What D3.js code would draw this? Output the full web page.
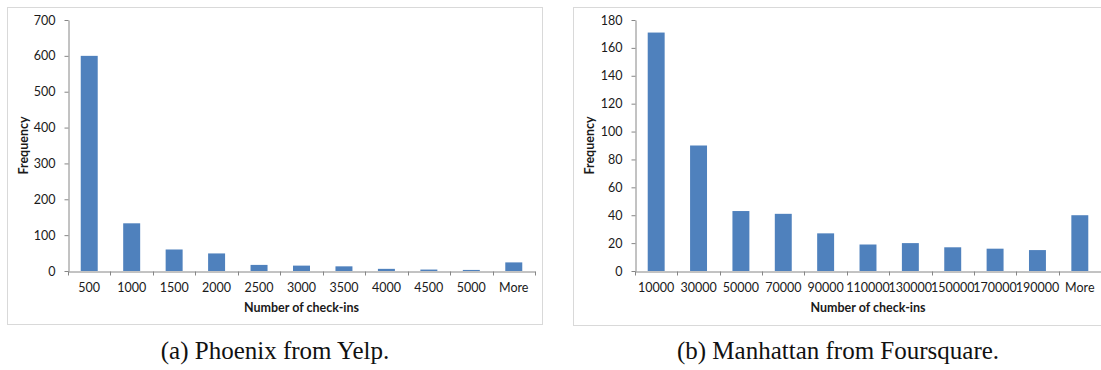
<!DOCTYPE html>
<html>
<head>
<meta charset="utf-8">
<script src="https://cdn.jsdelivr.net/npm/d3@7"></script>
<style>
  html, body { margin: 0; padding: 0; background: #fff; }
  svg { display: block; }
  .tick text { font-family: Lato, "Open Sans", sans-serif; }
</style>
</head>
<body>
<svg id="fig" width="1101" height="370"></svg>
<script>
// Histogram of check-ins per venue, Phoenix (Yelp)
const yelpBins = ["500", "1000", "1500", "2000", "2500", "3000", "3500", "4000", "4500", "5000", "More"];
const yelpFreq = [600, 133, 60, 49, 17, 15, 13, 6, 4, 3, 24];
const yelpTicks = [0, 100, 200, 300, 400, 500, 600, 700];

// Histogram of check-ins per venue, Manhattan (Foursquare)
const fsqBins = ["10000", "30000", "50000", "70000", "90000", "110000", "130000", "150000", "170000", "190000", "More"];
const fsqFreq = [171, 90, 43, 41, 27, 19, 20, 17, 16, 15, 40];
const fsqTicks = [0, 20, 40, 60, 80, 100, 120, 140, 160, 180];

const captions = ["(a) Phoenix from Yelp.", "(b) Manhattan from Foursquare."];

const svg = d3.select("#fig");
const BAR = "#4F81BD", AXIS = "#868686", FRAME = "#D9D9D9", INK = "#1a1a1a";

function panel(opt) {
  const g = svg.append("g");

  // chart frame
  g.append("rect")
    .attr("x", opt.frame[0] + 0.5).attr("y", opt.frame[1] + 0.5)
    .attr("width", opt.frame[2] - opt.frame[0]).attr("height", opt.frame[3] - opt.frame[1])
    .attr("fill", "none").attr("stroke", FRAME).attr("stroke-width", 1);

  const x = d3.scaleBand()
    .domain(opt.bins)
    .range([opt.left, opt.right])
    .paddingInner(0.6).paddingOuter(0.3);

  const y = d3.scaleLinear()
    .domain([0, d3.max(opt.ticks)])
    .range([opt.bottom, opt.top]);

  // bars
  g.selectAll("rect.bar")
    .data(opt.bins.map((b, i) => ({ b, v: opt.freq[i] })))
    .join("rect").attr("class", "bar")
    .attr("x", d => x(d.b))
    .attr("width", x.bandwidth())
    .attr("y", d => y(d.v))
    .attr("height", d => y(0) - y(d.v))
    .attr("fill", BAR);

  // y axis
  const ya = g.append("g")
    .attr("transform", `translate(${opt.left + 0.5},0)`)
    .call(d3.axisLeft(y).tickValues(opt.ticks).tickSize(4).tickPadding(9).tickSizeOuter(0));
  ya.select(".domain").attr("stroke", AXIS);
  ya.selectAll(".tick line").attr("stroke", AXIS);
  ya.selectAll(".tick text").attr("fill", INK).style("font-size", "12.5px");

  // x axis: labels centred on bins, ticks on bin boundaries
  const xa = g.append("g")
    .attr("transform", `translate(0,${opt.bottom + 0.5})`)
    .call(d3.axisBottom(x).tickSize(0).tickPadding(12).tickSizeOuter(0));
  xa.select(".domain").attr("stroke", AXIS);
  xa.selectAll(".tick text").attr("fill", INK).style("font-size", "12.5px");

  const step = x.step();
  const edges = d3.range(opt.bins.length + 1).map(i => x(opt.bins[0]) - step * x.paddingOuter() + i * step);
  xa.selectAll("line.edge")
    .data(edges)
    .join("line").attr("class", "edge")
    .attr("x1", d => Math.round(d) + 0.5).attr("x2", d => Math.round(d) + 0.5)
    .attr("y1", 0).attr("y2", 4)
    .attr("stroke", AXIS);

  // axis titles
  g.append("text")
    .attr("x", (opt.left + opt.right) / 2).attr("y", opt.bottom + 41)
    .attr("text-anchor", "middle")
    .attr("font-family", "Lato, 'Open Sans', sans-serif")
    .attr("font-weight", "bold").attr("font-size", 12.5)
    .attr("fill", INK)
    .text("Number of check-ins");

  g.append("text")
    .attr("transform", `translate(${opt.ytitleX},${(opt.top + opt.bottom) / 2}) rotate(-90)`)
    .attr("text-anchor", "middle")
    .attr("font-family", "Lato, 'Open Sans', sans-serif")
    .attr("font-weight", "bold").attr("font-size", 12.5)
    .attr("fill", INK)
    .text("Frequency");

  // sub-figure caption
  svg.append("text")
    .attr("x", opt.capX).attr("y", 359)
    .attr("text-anchor", "middle")
    .attr("font-family", "'Liberation Serif', 'DejaVu Serif', serif")
    .attr("font-size", 25)
    .attr("fill", "#111")
    .text(opt.caption);
}

panel({
  bins: yelpBins, freq: yelpFreq, ticks: yelpTicks,
  frame: [7, 7, 542, 324],
  left: 68, right: 535, top: 20, bottom: 271,
  ytitleX: 28, capX: 275, caption: captions[0]
});

panel({
  bins: fsqBins, freq: fsqFreq, ticks: fsqTicks,
  frame: [573, 7, 1101, 325],
  left: 635, right: 1101, top: 20, bottom: 271,
  ytitleX: 594, capX: 838, caption: captions[1]
});
</script>
</body>
</html>
